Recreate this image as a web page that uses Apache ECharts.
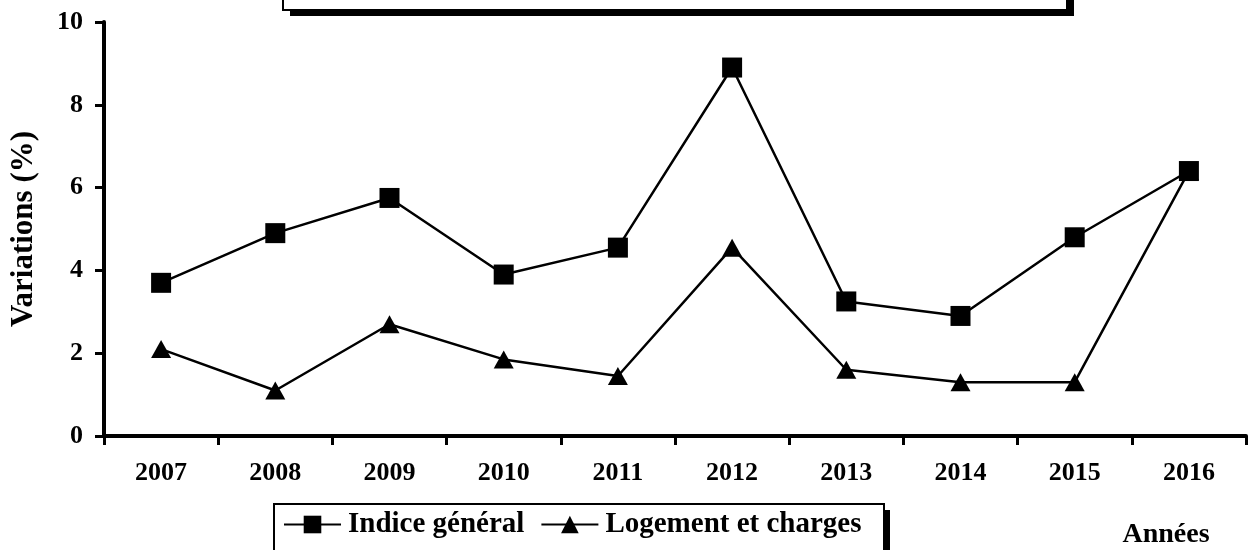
<!DOCTYPE html>
<html>
<head>
<meta charset="utf-8">
<script src="https://cdn.jsdelivr.net/npm/echarts@6/dist/echarts.min.js"></script>
<style>html,body{margin:0;padding:0;background:#fff}#c{width:1259px;height:550px}</style>
</head>
<body>
<div id="c"></div>
<script>
const years = ['2007','2008','2009','2010','2011','2012','2013','2014','2015','2016'];
const indiceGeneral = [3.7, 4.9, 5.75, 3.9, 4.55, 8.9, 3.25, 2.9, 4.8, 6.4];
const logementCharges = [2.1, 1.1, 2.7, 1.85, 1.45, 4.55, 1.6, 1.3, 1.3, 6.4];
const seriesNames = ['Indice général', 'Logement et charges'];
const yTicks = [0, 2, 4, 6, 8, 10];

const FONT = '"Liberation Serif", "Times New Roman", serif';
const chart = echarts.init(document.getElementById('c'), null, {renderer: 'canvas'});
chart.setOption({
  animation: false,
  backgroundColor: '#fff',
  grid: {left: 100, right: 13, top: 22, bottom: 114, containLabel: false},
  legend: {
    left: 283, top: 510, padding: 0, itemGap: 16,
    itemWidth: 57, itemHeight: 22,
    data: seriesNames,
    textStyle: {fontFamily: FONT, fontWeight: 'bold', fontSize: 29, color: '#000', padding: [0,0,0,2]}
  },
  xAxis: {
    type: 'category', data: years, boundaryGap: true,
    axisLine: {lineStyle: {color: '#000', width: 4}},
    axisTick: {show: true, alignWithLabel: false, length: 9, lineStyle: {color: '#000', width: 3}},
    axisLabel: {fontFamily: FONT, fontWeight: 'bold', fontSize: 26, color: '#000', margin: 24}
  },
  yAxis: {
    type: 'value', min: yTicks[0], max: yTicks[yTicks.length-1], interval: 2,
    name: 'Variations (%)', nameLocation: 'middle', nameGap: 65, nameRotate: 90,
    nameTextStyle: {fontFamily: FONT, fontWeight: 'bold', fontSize: 31, color: '#000'},
    splitLine: {show: false},
    axisLine: {show: true, lineStyle: {color: '#000', width: 4}},
    axisTick: {show: true, length: 9, lineStyle: {color: '#000', width: 3}},
    axisLabel: {fontFamily: FONT, fontWeight: 'bold', fontSize: 26, color: '#000', margin: 21}
  },
  series: [
    {
      name: seriesNames[1], type: 'line', data: logementCharges, z: 2,
      symbol: 'triangle', symbolSize: [20, 18], showAllSymbol: true,
      itemStyle: {color: '#000'}, lineStyle: {color: '#000', width: 2.5}
    },
    {
      name: seriesNames[0], type: 'line', data: indiceGeneral, z: 3,
      symbol: 'rect', symbolSize: 20, showAllSymbol: true,
      itemStyle: {color: '#000'}, lineStyle: {color: '#000', width: 2.5}
    }
  ],
  graphic: [
    {type: 'rect', z: 0, shape: {x: 290, y: -40, width: 784, height: 56}, style: {fill: '#000'}},
    {type: 'rect', z: 1, shape: {x: 283, y: -40, width: 784, height: 50}, style: {fill: '#fff', stroke: '#000', lineWidth: 2}},
    {type: 'rect', z: 0, shape: {x: 280, y: 510, width: 610, height: 60}, style: {fill: '#000'}},
    {type: 'rect', z: 1, shape: {x: 274, y: 504, width: 610, height: 60}, style: {fill: '#fff', stroke: '#000', lineWidth: 2}},
    {type: 'text', z: 5, x: 1166, y: 535, style: {text: 'Années', fontFamily: FONT, fontWeight: 'bold', fontSize: 28, fill: '#000', align: 'center', verticalAlign: 'middle'}}
  ]
});
</script>
</body>
</html>
